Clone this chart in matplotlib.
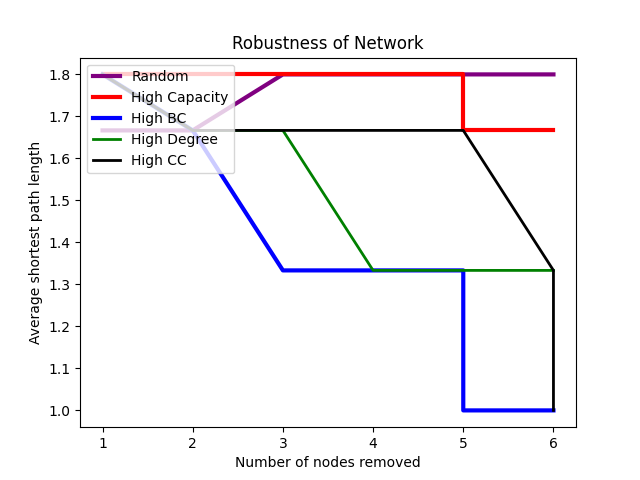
import matplotlib
matplotlib.use("Agg")
import matplotlib.pyplot as plt

# nodes removed / average shortest path length per strategy
x_random = [1, 2, 3, 4, 5, 6]
y_random = [5 / 3, 5 / 3, 1.8, 1.8, 1.8, 1.8]

x_cap = [1, 2, 3, 4, 5, 5, 6]
y_cap = [1.8, 1.8, 1.8, 1.8, 1.8, 5 / 3, 5 / 3]

x_bc = [1, 2, 3, 4, 5, 5, 6]
y_bc = [1.8, 5 / 3, 4 / 3, 4 / 3, 4 / 3, 1.0, 1.0]

x_deg = [1, 2, 3, 4, 5, 6]
y_deg = [1.8, 5 / 3, 5 / 3, 4 / 3, 4 / 3, 4 / 3]

x_cc = [1, 2, 3, 4, 5, 6, 6]
y_cc = [1.8, 5 / 3, 5 / 3, 5 / 3, 5 / 3, 4 / 3, 1.0]

plt.plot(x_random, y_random, color="purple", linewidth=3, label="Random")
plt.plot(x_cap, y_cap, color="red", linewidth=3, label="High Capacity")
plt.plot(x_bc, y_bc, color="blue", linewidth=3, label="High BC")
plt.plot(x_deg, y_deg, color="green", linewidth=2, label="High Degree")
plt.plot(x_cc, y_cc, color="black", linewidth=2, label="High CC")

plt.title("Robustness of Network")
plt.xlabel("Number of nodes removed")
plt.ylabel("Average shortest path length")
plt.legend(loc="upper left")
plt.savefig("out.png")
